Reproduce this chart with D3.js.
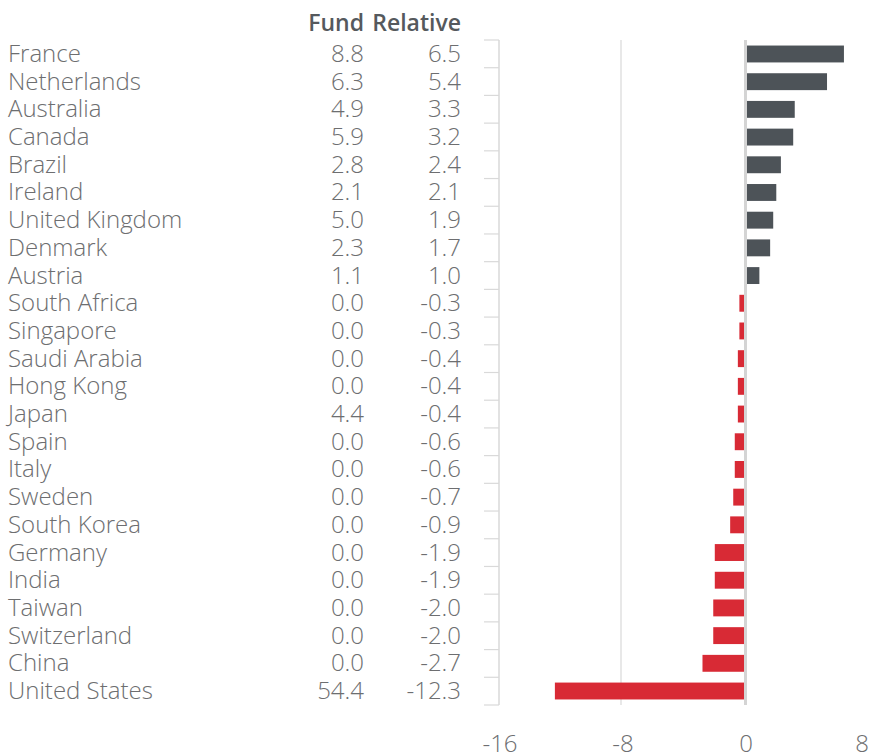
<!DOCTYPE html>
<html>
<head>
<meta charset="utf-8">
<script src="https://cdn.jsdelivr.net/npm/d3@7"></script>
<style>
  body { margin: 0; background: #fff; }
  svg { display: block; }
</style>
</head>
<body>
<svg id="chart" width="870" height="753"></svg>
<script>
const countries = ["France","Netherlands","Australia","Canada","Brazil","Ireland","United Kingdom","Denmark","Austria","South Africa","Singapore","Saudi Arabia","Hong Kong","Japan","Spain","Italy","Sweden","South Korea","Germany","India","Taiwan","Switzerland","China","United States"];
const fund = ["8.8","6.3","4.9","5.9","2.8","2.1","5.0","2.3","1.1","0.0","0.0","0.0","0.0","4.4","0.0","0.0","0.0","0.0","0.0","0.0","0.0","0.0","0.0","54.4"];
const relative = [6.5,5.4,3.3,3.2,2.4,2.1,1.9,1.7,1.0,-0.3,-0.3,-0.4,-0.4,-0.4,-0.6,-0.6,-0.7,-0.9,-1.9,-1.9,-2.0,-2.0,-2.7,-12.3];
const xTicks = [-16,-8,0,8];
const headers = ["Fund","Relative"];

const svg = d3.select("#chart");
const font = "'Open Sans', sans-serif";
const textColor = "#6d6e70";

const x = d3.scaleLinear().domain([-16, 8]).range([498, 867]);
const y = d3.scaleBand().domain(countries).range([40, 705]).paddingInner(0.39).paddingOuter(0.2);

// gridline at -8
svg.append("line")
  .attr("x1", x(-8)).attr("x2", x(-8))
  .attr("y1", 40).attr("y2", 705)
  .attr("stroke", "#d9d9d9").attr("stroke-width", 1.2);

// left axis line with category ticks
svg.append("line")
  .attr("x1", x(-16) + 1).attr("x2", x(-16) + 1)
  .attr("y1", 40).attr("y2", 705)
  .attr("stroke", "#d9d9d9").attr("stroke-width", 1.5);
const boundaries = d3.range(countries.length + 1).map(i => 40 + i * (665 / countries.length));
svg.selectAll("line.tick").data(boundaries).enter().append("line")
  .attr("class", "tick")
  .attr("x1", x(-16) - 14).attr("x2", x(-16) + 1)
  .attr("y1", d => d).attr("y2", d => d)
  .attr("stroke", "#d9d9d9").attr("stroke-width", 1.2);

// bars
svg.selectAll("rect.bar").data(countries).enter().append("rect")
  .attr("class", "bar")
  .attr("x", (d, i) => x(Math.min(0, relative[i])))
  .attr("width", (d, i) => Math.abs(x(relative[i]) - x(0)))
  .attr("y", d => y(d))
  .attr("height", y.bandwidth())
  .attr("fill", (d, i) => relative[i] >= 0 ? "#4d5358" : "#d82a35");

// zero line
svg.append("line")
  .attr("x1", x(0) + 1.5).attr("x2", x(0) + 1.5)
  .attr("y1", 40).attr("y2", 705)
  .attr("stroke", "#d4d4d4").attr("stroke-width", 3);

// x tick labels
svg.selectAll("text.xt").data(xTicks).enter().append("text")
  .attr("class", "xt")
  .attr("x", d => Math.min(x(d) + 2, 862)).attr("y", 752)
  .attr("text-anchor", "middle")
  .attr("font-family", font).attr("font-weight", 300).attr("font-size", 24)
  .attr("fill", textColor)
  .text(d => d);

// category labels
const rowY = d => y(d) + y.bandwidth() / 2 + 8;
svg.selectAll("text.cat").data(countries).enter().append("text")
  .attr("class", "cat")
  .attr("x", 8).attr("y", rowY)
  .attr("font-family", font).attr("font-weight", 300).attr("font-size", 24)
  .attr("fill", textColor)
  .text(d => d);

svg.selectAll("text.fund").data(countries).enter().append("text")
  .attr("class", "fund")
  .attr("x", 364).attr("y", rowY)
  .attr("text-anchor", "end")
  .attr("font-family", font).attr("font-weight", 300).attr("font-size", 24)
  .attr("fill", textColor)
  .text((d, i) => fund[i]);

svg.selectAll("text.rel").data(countries).enter().append("text")
  .attr("class", "rel")
  .attr("x", 461).attr("y", rowY)
  .attr("text-anchor", "end")
  .attr("font-family", font).attr("font-weight", 300).attr("font-size", 24)
  .attr("fill", textColor)
  .text((d, i) => relative[i].toFixed(1));

// headers
svg.selectAll("text.hdr").data(headers).enter().append("text")
  .attr("class", "hdr")
  .attr("x", (d, i) => i === 0 ? 364 : 461).attr("y", 31)
  .attr("text-anchor", "end")
  .attr("font-family", font).attr("font-weight", 600).attr("font-size", 23)
  .attr("fill", "#55595d")
  .text(d => d);
</script>
</body>
</html>
